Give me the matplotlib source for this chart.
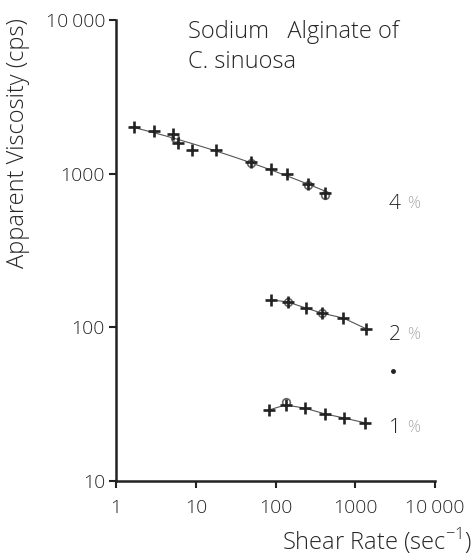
import numpy as np
import matplotlib.pyplot as plt

# shear rate (1/s) and apparent viscosity (cps)
rate_4 = [1.66, 3.01, 5.11, 5.91, 8.84, 17.8, 49.7, 88.3, 137, 253, 422]
visc_4 = [2015, 1906, 1814, 1585, 1433, 1433, 1202, 1078, 995, 857, 748]

rate_2 = [88.4, 141, 237, 376, 708, 1373]
visc_2 = [151, 146.6, 134, 124, 115, 97.8]

rate_1 = [82.5, 133, 234, 422, 729, 1334]
visc_1 = [29.0, 31.3, 29.8, 27.3, 25.7, 23.9]

# points drawn with an extra open circle
circ_rate = [5.4, 49.7, 253, 422, 141, 376, 133]
circ_visc = [1700, 1180, 850, 730, 146, 124, 32.5]

labels = ['4', '2', '1']
label_visc = [638, 89.3, 22.1]
label_rate = 2600

xticks = [1, 10, 100, 1000, 10000]
xtick_labels = ['1', '10', '100', '1000', '10\u2009000']
yticks = [10, 100, 1000, 10000]
ytick_labels = ['10', '100', '1000', '10\u2009000']

plt.rcParams['font.family'] = ['Open Sans', 'DejaVu Sans']
plt.rcParams['font.weight'] = 'light'
plt.rcParams['mathtext.fontset'] = 'custom'
plt.rcParams['mathtext.rm'] = 'Open Sans:light'
ink = '#222222'
txt = '#262626'

fig = plt.figure(figsize=(4.74, 5.6), dpi=100)
ax = fig.add_axes([0.245, 0.141, 0.673, 0.823])
ax.set_xscale('log')
ax.set_yscale('log')
ax.set_xlim(1, 10000)
ax.set_ylim(10, 10000)

# 4 % curve: quadratic fit in log-log space
lx = np.log10(rate_4)
ly = np.log10(visc_4)
p = np.polyfit(lx, ly, 2)
xs = np.linspace(lx.min() - 0.03, lx.max() + 0.05, 100)
ax.plot(10 ** xs, 10 ** np.polyval(p, xs), color='#555555', lw=0.8, zorder=1)
ax.plot(rate_2, visc_2, color='#555555', lw=0.8, zorder=1)
ax.plot(rate_1, visc_1, color='#555555', lw=0.8, zorder=1)

for r, v in [(rate_4, visc_4), (rate_2, visc_2), (rate_1, visc_1)]:
    ax.plot(r, v, ls='none', marker='+', ms=8.5, mew=1.9, color=ink, zorder=3)
ax.plot(circ_rate, circ_visc, ls='none', marker='o', ms=5.5, mfc='none',
        mec='#666666', mew=1.2, zorder=2)

for lab, v in zip(labels, label_visc):
    ax.text(label_rate, v, lab, fontsize=15, color=txt, ha='left', va='center')
    ax.text(label_rate * 1.7, v, '%', fontsize=11.5, color='#aaaaaa', ha='left',
            va='center')
ax.plot([3000], [52], ls='none', marker='o', ms=2.5, color=ink)

ax.text(0.225, 1.0, 'Sodium   Alginate of\nC. sinuosa', transform=ax.transAxes,
        fontsize=17, color=txt, ha='left', va='top', linespacing=1.35)

ax.set_xticks(xticks)
ax.set_xticklabels(xtick_labels)
ax.set_yticks(yticks)
ax.set_yticklabels(ytick_labels)
ax.minorticks_off()
ax.tick_params(axis='both', direction='out', length=5, width=1.5, color=ink,
               labelsize=14, labelcolor=txt)
ax.tick_params(axis='x', pad=8)
ax.tick_params(axis='y', pad=3)

for s in ['top', 'right']:
    ax.spines[s].set_visible(False)
for s in ['left', 'bottom']:
    ax.spines[s].set_linewidth(1.8)
    ax.spines[s].set_color(ink)

fig.text(0.995, 0.008, 'Shear Rate (sec$^{-1}$)', fontsize=17, color=txt,
         ha='right', va='bottom')
fig.text(0.038, 0.745, 'Apparent Viscosity (cps)', fontsize=17, color=txt,
         rotation=90, ha='center', va='center')

fig.savefig('out.png', dpi=100)
